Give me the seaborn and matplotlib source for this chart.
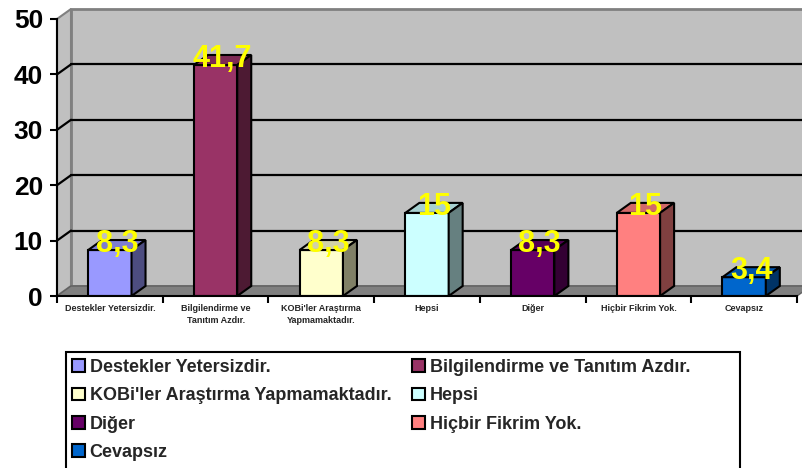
import numpy as np
import pandas as pd
import matplotlib.pyplot as plt
import seaborn as sns
from matplotlib.patches import Polygon, Rectangle, Patch
from matplotlib.colors import to_rgb

# veriler
categories = ['Destekler Yetersizdir.', 'Bilgilendirme ve Tanıtım Azdır.',
              "KOBi'ler Araştırma Yapmamaktadır.", 'Hepsi', 'Diğer',
              'Hiçbir Fikrim Yok.', 'Cevapsız']
tick_labels = ['Destekler Yetersizdir.', 'Bilgilendirme ve\nTanıtım Azdır.',
               "KOBi'ler Araştırma\nYapmamaktadır.", 'Hepsi', 'Diğer',
               'Hiçbir Fikrim Yok.', 'Cevapsız']
values = [8.3, 41.7, 8.3, 15, 8.3, 15, 3.4]
colors = ['#9999FF', '#993366', '#FFFFCC', '#CCFFFF', '#660066', '#FF8080', '#0066CC']
yticks = [0, 10, 20, 30, 40, 50]

sns.set_style('white')
plt.rcParams['font.family'] = ['Liberation Sans', 'DejaVu Sans']

W, H = 803, 468
fig = plt.figure(figsize=(W / 100, H / 100), dpi=100)
# eksen: x 57..797 px, y 296..19 px
ax = fig.add_axes([57 / W, (H - 296) / H, 740 / W, 277 / H])
ax.set_facecolor('none')

df = pd.DataFrame({'kategori': categories, 'deger': values})
sns.barplot(data=df, x='kategori', y='deger', hue='kategori', palette=colors,
            width=0.41, edgecolor='black', linewidth=1.5, legend=False,
            saturation=1, ax=ax, zorder=4)
bars = list(ax.patches)

ax.set_xlim(-0.5, 6.5)
ax.set_ylim(0, 50)

# derinlik ofseti (piksel -> veri)
ux = 7 / 740
uy = 50 / 277
dx, dy = 14 * ux, 10 * uy
x0, x1 = -0.5, 6.5

# arka duvar
ax.add_patch(Polygon([(x0 + dx, dy), (x1 + dx, dy), (x1 + dx, 50 + dy), (x0 + dx, 50 + dy)],
                     closed=True, facecolor='#C0C0C0', edgecolor='#808080', lw=2,
                     clip_on=False, zorder=0.5))
# sol duvar
ax.add_patch(Polygon([(x0, 0), (x0, 50), (x0 + dx, 50 + dy), (x0 + dx, dy)],
                     closed=True, facecolor='#C0C0C0', edgecolor='#808080', lw=1.5,
                     clip_on=False, zorder=0.6))
for v in yticks[1:-1]:
    ax.plot([x0 + dx, x1 + dx], [v + dy, v + dy], color='black', lw=1.6,
            clip_on=False, zorder=0.7)
    ax.plot([x0, x0 + dx], [v, v + dy], color='black', lw=1.6, clip_on=False, zorder=0.7)
# taban
ax.add_patch(Polygon([(x0, 0), (x1, 0), (x1 + dx, dy), (x0 + dx, dy)],
                     closed=True, facecolor='#808080', edgecolor='#606060', lw=1,
                     clip_on=False, zorder=0.8))

# 3B çubuk yüzleri ve etiketler
for b in bars:
    bx, bw, bh = b.get_x(), b.get_width(), b.get_height()
    c = np.array(to_rgb(b.get_facecolor()))
    top = [(bx, bh), (bx + bw, bh), (bx + bw + dx, bh + dy), (bx + dx, bh + dy)]
    side = [(bx + bw, 0), (bx + bw + dx, dy), (bx + bw + dx, bh + dy), (bx + bw, bh)]
    ax.add_patch(Polygon(top, closed=True, facecolor=c * 0.82, edgecolor='black',
                         lw=1.5, clip_on=False, zorder=4))
    ax.add_patch(Polygon(side, closed=True, facecolor=c * 0.5, edgecolor='black',
                         lw=1.5, clip_on=False, zorder=4))
    lab = f'{bh:g}'.replace('.', ',')
    ax.text(bx + bw / 2 + dx / 2, bh - 2 * uy, lab, ha='center', va='baseline',
            color='#FFFF00', fontsize=22, fontweight='bold', zorder=6, clip_on=False)

# eksenler
for s in ['top', 'right']:
    ax.spines[s].set_visible(False)
for s in ['left', 'bottom']:
    ax.spines[s].set_linewidth(1.5)
    ax.spines[s].set_color('black')
    ax.spines[s].set_zorder(5)

ax.set_yticks(yticks)
ax.set_yticklabels([str(v) for v in yticks], fontsize=19, fontweight='bold')
ax.tick_params(axis='y', left=True, length=5, width=1.5, pad=5, colors='black')
ax.set_xticks(range(len(categories)))
ax.set_xticklabels(tick_labels, fontsize=6.5, fontweight='bold', linespacing=1.45)
ax.set_xticks(np.arange(-0.5, 7, 1), minor=True)
ax.tick_params(axis='x', which='major', length=0, pad=6)
ax.tick_params(axis='x', which='minor', bottom=True, length=5, width=1.5, color='black')
ax.set_xlabel('')
ax.set_ylabel('')

# lejant
order = [0, 2, 4, 6, 1, 3, 5]
handles = [Patch(facecolor=colors[i], edgecolor='black', lw=1.5) for i in order]
labels = [categories[i] for i in order]
fig.legend(handles, labels, loc='upper left', ncol=2, frameon=False,
           bbox_to_anchor=(72 / W, 1 - 359 / H), bbox_transform=fig.transFigure,
           prop={'size': 13, 'weight': 'bold'}, borderpad=0, borderaxespad=0,
           handlelength=0.7, handleheight=0.7, handletextpad=0.28,
           labelspacing=0.63, columnspacing=1.15)
fig.add_artist(Rectangle((66 / W, -0.05), (740 - 66) / W, (H - 352) / H + 0.05,
                         transform=fig.transFigure, fill=False, edgecolor='black', lw=1.5))

fig.savefig('out.png', dpi=100)
